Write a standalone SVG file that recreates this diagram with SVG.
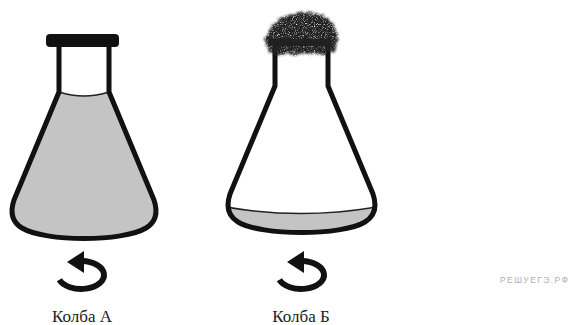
<svg xmlns="http://www.w3.org/2000/svg" width="581" height="325" viewBox="0 0 581 325">
  <style>
    .glass { fill: none; stroke: #111; stroke-width: 5; stroke-linejoin: round; stroke-linecap: round; }
    .liquid { fill: #c4c4c4; }
    .meniscus { fill: none; stroke: #222; stroke-width: 1.6; }
    .turn { fill: none; stroke: #111; stroke-width: 6; }
    .head { fill: #111; }
    .label { font-family: "Liberation Serif", "Times New Roman", serif; font-size: 17px; fill: #222; text-anchor: middle; }
    .mark { font-family: "Liberation Sans", Arial, sans-serif; font-size: 8.5px; fill: #b0b0b0; }
  </style>
  <defs>
    <!-- inner space of each flask, used to trim the liquid -->
    <clipPath id="insideA">
      <path d="M59,47 L59,92 L14,200 C10,212 12,222 22,228 C45,242 123,242 146,228 C156,222 158,212 154,200 L109,92 L109,47 Z"/>
    </clipPath>
    <clipPath id="insideB">
      <path d="M275,45 L275,86 L230,194 C226,206 228,216 238,222 C261,236 342,236 365,222 C375,216 377,206 373,194 L328,86 L328,45 Z"/>
    </clipPath>
    <!-- ragged, grainy look for the cotton wool plug -->
    <filter id="fuzz" x="-25%" y="-40%" width="150%" height="180%">
      <feTurbulence type="fractalNoise" baseFrequency="0.3" numOctaves="2" seed="4" result="warp"/>
      <feDisplacementMap in="SourceGraphic" in2="warp" scale="8" xChannelSelector="R" yChannelSelector="G" result="shape"/>
      <feGaussianBlur in="shape" stdDeviation="1" result="soft"/>
      <feTurbulence type="fractalNoise" baseFrequency="0.9" numOctaves="3" seed="9" result="grain"/>
      <feColorMatrix in="grain" type="matrix" values="0 0 0 0 0  0 0 0 0 0  0 0 0 0 0  2.6 0 0 0 -0.25" result="speck"/>
      <feComposite in="soft" in2="speck" operator="in"/>
    </filter>
  </defs>

  <!-- Flask A: stoppered, filled nearly to the neck -->
  <g id="flask-a">
    <path class="liquid" clip-path="url(#insideA)" d="M0,92 L59,92 Q84,100 109,92 L170,92 L170,250 L0,250 Z"/>
    <path class="meniscus" clip-path="url(#insideA)" d="M59,92 Q84,100 109,92"/>
    <path class="glass" d="M59,47 L59,92 L14,200 C10,212 12,222 22,228 C45,242 123,242 146,228 C156,222 158,212 154,200 L109,92 L109,47"/>
    <rect x="46" y="34" width="73" height="13" rx="4" fill="#111"/>
  </g>

  <!-- Flask B: cotton plug, small amount of liquid -->
  <g id="flask-b">
    <path class="liquid" clip-path="url(#insideB)" d="M220,206 Q301,221 382,206 L382,245 L220,245 Z"/>
    <path class="meniscus" clip-path="url(#insideB)" d="M220,206 Q301,221 382,206"/>
    <path class="glass" d="M275,45 L275,86 L230,194 C226,206 228,216 238,222 C261,236 342,236 365,222 C375,216 377,206 373,194 L328,86 L328,45"/>
    <rect x="268" y="39" width="64" height="7" rx="3" fill="#111"/>
    <path filter="url(#fuzz)" fill="#222" d="M268,50 C262,40 268,26 280,19 C290,12 310,10 322,15 C334,21 340,33 337,46 C335,54 325,55 300,54 C285,54 272,56 268,50 Z"/>
  </g>

  <!-- rotation arrows -->
  <g id="connectors">
    <g id="turn-a">
      <path class="turn" d="M82,261 A23,14 0 1 1 59.4,279.8"/>
      <polygon class="head" points="67,262 84,251 84,273"/>
    </g>
    <g id="turn-b">
      <path class="turn" d="M302,261 A23,14 0 1 1 279.4,279.8"/>
      <polygon class="head" points="287,262 304,251 304,273"/>
    </g>
  </g>

  <g id="labels">
    <text class="label" x="82" y="322">Колба А</text>
    <text class="label" x="301" y="322">Колба Б</text>
    <text class="mark" x="500" y="283" textLength="68" lengthAdjust="spacing">РЕШУЕГЭ.РФ</text>
  </g>
</svg>
